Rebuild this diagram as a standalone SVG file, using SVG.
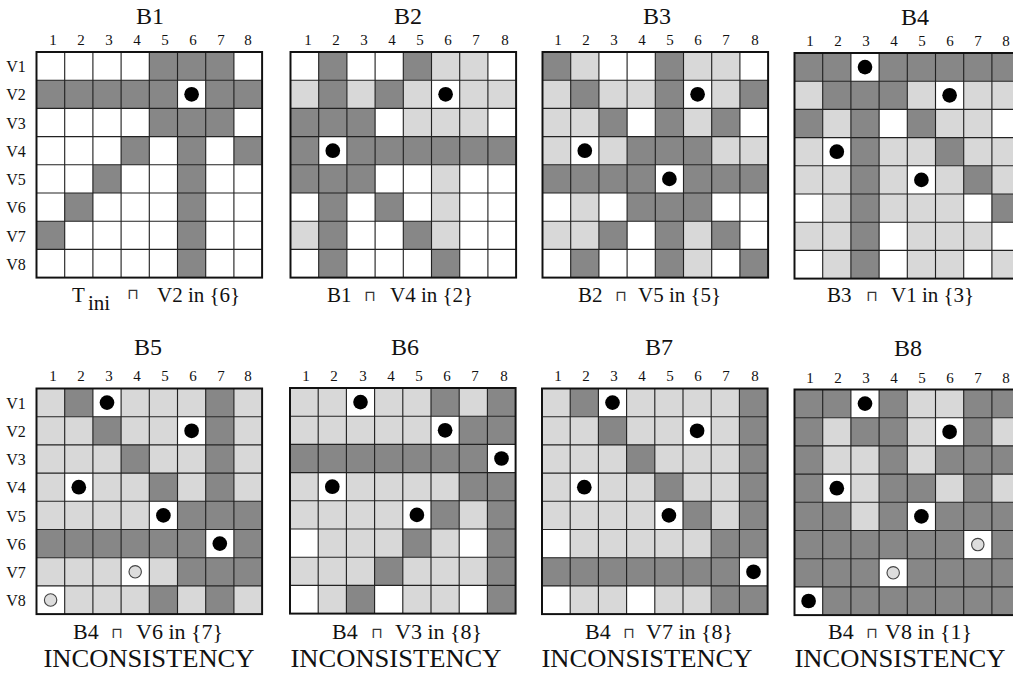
<svg xmlns="http://www.w3.org/2000/svg" xmlns:xlink="http://www.w3.org/1999/xlink" width="1013" height="677" viewBox="0 0 1013 677">
<style>
text{font-family:"Liberation Serif","Times New Roman",serif;fill:#111}
.title{font-size:24px;text-anchor:middle}
.num{font-size:15px;text-anchor:middle}
.row{font-size:16px;text-anchor:middle}
.lab{font-size:21px}
.lab2{font-size:22px}
.sym{font-family:"DejaVu Sans",sans-serif;font-size:15px;fill:#333}
.inc{font-size:25px;text-anchor:middle}
.d{fill:#878787}
.l{fill:#d8d8d8}
.bg{fill:#fff}
.gl{fill:none;stroke:#222;stroke-width:0.04}
.fr{fill:none;stroke:#111;stroke-width:0.07}
.dot{fill:#000}
.oc{fill:#ddd;stroke:#444;stroke-width:0.04}
</style>
<defs>
<g id="grid">
<path class="gl" d="M1 0V8M2 0V8M3 0V8M4 0V8M5 0V8M6 0V8M7 0V8M0 1H8M0 2H8M0 3H8M0 4H8M0 5H8M0 6H8M0 7H8"/>
<rect class="fr" width="8" height="8"/>
</g>
</defs>
<rect width="1013" height="677" fill="#fff"/>

<g id="board-B1">
<text class="title" x="150" y="24">B1</text>
<text class="num" x="53 81 109 137 165 193 221 248" y="45">12345678</text>
<text class="row" x="16" y="72">V1</text><text class="row" x="16" y="100">V2</text><text class="row" x="16" y="128.5">V3</text><text class="row" x="16" y="157">V4</text>
<text class="row" x="16" y="185">V5</text><text class="row" x="16" y="213">V6</text><text class="row" x="16" y="241.5">V7</text><text class="row" x="16" y="269.5">V8</text>
<g transform="translate(36.5,52) scale(28.2)">
<rect class="bg" width="8" height="8"/>
<rect class="d" x="4" y="0" width="3" height="1"/>
<rect class="d" x="0" y="1" width="5" height="1"/><rect class="d" x="6" y="1" width="2" height="1"/>
<rect class="d" x="4" y="2" width="3" height="1"/>
<rect class="d" x="3" y="3" width="1" height="1"/><rect class="d" x="7" y="3" width="1" height="1"/>
<rect class="d" x="2" y="4" width="1" height="1"/>
<rect class="d" x="1" y="5" width="1" height="1"/>
<rect class="d" x="0" y="6" width="1" height="1"/>
<rect class="d" x="5" y="3" width="1" height="5"/>
<use xlink:href="#grid"/>
<circle class="dot" cx="5.5" cy="1.5" r="0.26"/>
</g>
<text class="lab" x="72" y="302">T</text><text class="lab" x="88" y="310">ini</text><text class="sym" x="127" y="299">⊓</text><text class="lab" x="157" y="302">V2 in {6}</text>
</g>

<g id="board-B2">
<text class="title" x="408" y="24">B2</text>
<text class="num" x="308 336 364 392 420 448 476 505" y="45">12345678</text>
<g transform="translate(290.5,52) scale(28.2)">
<rect class="bg" width="8" height="8"/>
<rect class="d" x="1" y="0" width="1" height="1"/><rect class="d" x="4" y="0" width="1" height="1"/><rect class="l" x="5" y="0" width="2" height="1"/>
<rect class="l" x="0" y="1" width="1" height="1"/><rect class="d" x="1" y="1" width="1" height="1"/><rect class="l" x="2" y="1" width="1" height="1"/><rect class="d" x="3" y="1" width="1" height="1"/><rect class="l" x="4" y="1" width="1" height="1"/><rect class="l" x="6" y="1" width="2" height="1"/>
<rect class="d" x="0" y="2" width="3" height="1"/><rect class="l" x="4" y="2" width="3" height="1"/>
<rect class="d" x="0" y="3" width="1" height="1"/><rect class="d" x="2" y="3" width="6" height="1"/>
<rect class="d" x="0" y="4" width="3" height="1"/><rect class="l" x="5" y="4" width="1" height="1"/>
<rect class="d" x="1" y="5" width="1" height="1"/><rect class="d" x="3" y="5" width="1" height="1"/><rect class="l" x="5" y="5" width="1" height="1"/>
<rect class="l" x="0" y="6" width="1" height="1"/><rect class="d" x="1" y="6" width="1" height="1"/><rect class="d" x="4" y="6" width="1" height="1"/><rect class="l" x="5" y="6" width="1" height="1"/>
<rect class="d" x="1" y="7" width="1" height="1"/><rect class="d" x="5" y="7" width="1" height="1"/>
<use xlink:href="#grid"/>
<circle class="dot" cx="5.5" cy="1.5" r="0.26"/><circle class="dot" cx="1.5" cy="3.5" r="0.26"/>
</g>
<text class="lab" x="327" y="302">B1</text><text class="sym" x="364" y="301">⊓</text><text class="lab" x="390" y="302">V4 in {2}</text>
</g>

<g id="board-B3">
<text class="title" x="657" y="24">B3</text>
<text class="num" x="558 586 614 642 670 698 726 755" y="45">12345678</text>
<g transform="translate(542.5,52) scale(28.2)">
<rect class="bg" width="8" height="8"/>
<rect class="d" x="0" y="0" width="1" height="1"/><rect class="l" x="1" y="0" width="1" height="1"/><rect class="d" x="4" y="0" width="1" height="1"/><rect class="l" x="5" y="0" width="2" height="1"/>
<rect class="l" x="0" y="1" width="1" height="1"/><rect class="d" x="1" y="1" width="1" height="1"/><rect class="l" x="2" y="1" width="2" height="1"/><rect class="d" x="4" y="1" width="1" height="1"/><rect class="l" x="6" y="1" width="1" height="1"/><rect class="d" x="7" y="1" width="1" height="1"/>
<rect class="l" x="0" y="2" width="2" height="1"/><rect class="d" x="2" y="2" width="1" height="1"/><rect class="d" x="4" y="2" width="1" height="1"/><rect class="l" x="5" y="2" width="1" height="1"/><rect class="d" x="6" y="2" width="1" height="1"/>
<rect class="l" x="0" y="3" width="1" height="1"/><rect class="l" x="2" y="3" width="1" height="1"/><rect class="d" x="3" y="3" width="3" height="1"/><rect class="l" x="6" y="3" width="2" height="1"/>
<rect class="d" x="0" y="4" width="4" height="1"/><rect class="d" x="5" y="4" width="3" height="1"/>
<rect class="l" x="1" y="5" width="1" height="1"/><rect class="d" x="3" y="5" width="3" height="1"/>
<rect class="l" x="0" y="6" width="2" height="1"/><rect class="d" x="2" y="6" width="1" height="1"/><rect class="d" x="4" y="6" width="1" height="1"/><rect class="l" x="5" y="6" width="1" height="1"/><rect class="d" x="6" y="6" width="1" height="1"/>
<rect class="d" x="1" y="7" width="1" height="1"/><rect class="d" x="4" y="7" width="1" height="1"/><rect class="l" x="5" y="7" width="1" height="1"/><rect class="d" x="7" y="7" width="1" height="1"/>
<use xlink:href="#grid"/>
<circle class="dot" cx="5.5" cy="1.5" r="0.26"/><circle class="dot" cx="1.5" cy="3.5" r="0.26"/><circle class="dot" cx="4.5" cy="4.5" r="0.26"/>
</g>
<text class="lab" x="578" y="302">B2</text><text class="sym" x="615" y="301">⊓</text><text class="lab" x="638" y="302">V5 in {5}</text>
</g>

<g id="board-B4">
<text class="title" x="915" y="25">B4</text>
<text class="num" x="810 838 866 894 922 950 978 1006" y="46">12345678</text>
<g transform="translate(794.5,53) scale(28.2)">
<rect class="bg" width="8" height="8"/>
<rect class="d" x="0" y="0" width="2" height="1"/><rect class="d" x="3" y="0" width="5" height="1"/>
<rect class="l" x="0" y="1" width="1" height="1"/><rect class="d" x="1" y="1" width="3" height="1"/><rect class="l" x="4" y="1" width="1" height="1"/><rect class="l" x="6" y="1" width="2" height="1"/>
<rect class="d" x="0" y="2" width="1" height="1"/><rect class="l" x="1" y="2" width="1" height="1"/><rect class="d" x="2" y="2" width="1" height="1"/><rect class="d" x="4" y="2" width="1" height="1"/><rect class="l" x="5" y="2" width="2" height="1"/>
<rect class="l" x="0" y="3" width="1" height="1"/><rect class="d" x="2" y="3" width="1" height="1"/><rect class="l" x="3" y="3" width="2" height="1"/><rect class="d" x="5" y="3" width="1" height="1"/><rect class="l" x="6" y="3" width="2" height="1"/>
<rect class="l" x="0" y="4" width="2" height="1"/><rect class="d" x="2" y="4" width="1" height="1"/><rect class="l" x="3" y="4" width="1" height="1"/><rect class="l" x="5" y="4" width="1" height="1"/><rect class="d" x="6" y="4" width="1" height="1"/><rect class="l" x="7" y="4" width="1" height="1"/>
<rect class="l" x="1" y="5" width="1" height="1"/><rect class="d" x="2" y="5" width="1" height="1"/><rect class="l" x="3" y="5" width="3" height="1"/><rect class="d" x="7" y="5" width="1" height="1"/>
<rect class="l" x="0" y="6" width="2" height="1"/><rect class="d" x="2" y="6" width="1" height="1"/><rect class="l" x="4" y="6" width="3" height="1"/>
<rect class="l" x="1" y="7" width="1" height="1"/><rect class="d" x="2" y="7" width="1" height="1"/><rect class="l" x="4" y="7" width="2" height="1"/><rect class="l" x="7" y="7" width="1" height="1"/>
<use xlink:href="#grid"/>
<circle class="dot" cx="2.5" cy="0.5" r="0.26"/><circle class="dot" cx="5.5" cy="1.5" r="0.26"/><circle class="dot" cx="1.5" cy="3.5" r="0.26"/><circle class="dot" cx="4.5" cy="4.5" r="0.26"/>
</g>
<text class="lab" x="827" y="302">B3</text><text class="sym" x="866" y="301">⊓</text><text class="lab" x="891" y="302">V1 in {3}</text>
</g>

<g id="board-B5">
<text class="title" x="148" y="355">B5</text>
<text class="num" x="53 81 109 137 165 193 221 248" y="381">12345678</text>
<text class="row" x="16" y="408.5">V1</text><text class="row" x="16" y="437">V2</text><text class="row" x="16" y="465">V3</text><text class="row" x="16" y="493">V4</text>
<text class="row" x="16" y="521.5">V5</text><text class="row" x="16" y="549.5">V6</text><text class="row" x="16" y="578">V7</text><text class="row" x="16" y="606">V8</text>
<g transform="translate(36.5,388.5) scale(28.2)">
<rect class="bg" width="8" height="8"/>
<rect class="l" x="0" y="0" width="1" height="1"/><rect class="d" x="1" y="0" width="1" height="1"/><rect class="l" x="3" y="0" width="3" height="1"/><rect class="d" x="6" y="0" width="1" height="1"/><rect class="l" x="7" y="0" width="1" height="1"/>
<rect class="l" x="0" y="1" width="2" height="1"/><rect class="d" x="2" y="1" width="1" height="1"/><rect class="l" x="3" y="1" width="2" height="1"/><rect class="d" x="6" y="1" width="1" height="1"/><rect class="l" x="7" y="1" width="1" height="1"/>
<rect class="l" x="0" y="2" width="3" height="1"/><rect class="d" x="3" y="2" width="1" height="1"/><rect class="l" x="4" y="2" width="2" height="1"/><rect class="d" x="6" y="2" width="1" height="1"/><rect class="l" x="7" y="2" width="1" height="1"/>
<rect class="l" x="0" y="3" width="1" height="1"/><rect class="l" x="2" y="3" width="2" height="1"/><rect class="d" x="4" y="3" width="1" height="1"/><rect class="l" x="5" y="3" width="1" height="1"/><rect class="d" x="6" y="3" width="1" height="1"/><rect class="l" x="7" y="3" width="1" height="1"/>
<rect class="l" x="0" y="4" width="4" height="1"/><rect class="d" x="5" y="4" width="3" height="1"/>
<rect class="d" x="0" y="5" width="6" height="1"/><rect class="d" x="7" y="5" width="1" height="1"/>
<rect class="l" x="0" y="6" width="3" height="1"/><rect class="l" x="4" y="6" width="1" height="1"/><rect class="d" x="5" y="6" width="3" height="1"/>
<rect class="l" x="1" y="7" width="3" height="1"/><rect class="d" x="4" y="7" width="1" height="1"/><rect class="l" x="5" y="7" width="1" height="1"/><rect class="d" x="6" y="7" width="1" height="1"/><rect class="l" x="7" y="7" width="1" height="1"/>
<use xlink:href="#grid"/>
<circle class="dot" cx="2.5" cy="0.5" r="0.26"/><circle class="dot" cx="5.5" cy="1.5" r="0.26"/><circle class="dot" cx="1.5" cy="3.5" r="0.26"/><circle class="dot" cx="4.5" cy="4.5" r="0.26"/><circle class="dot" cx="6.5" cy="5.5" r="0.26"/>
<circle class="oc" cx="3.5" cy="6.5" r="0.22"/><circle class="oc" cx="0.5" cy="7.5" r="0.22"/>
</g>
<text class="lab2" x="73" y="639">B4</text><text class="sym" x="111" y="638">⊓</text><text class="lab2" x="136" y="639">V6 in {7}</text>
<text class="inc" x="149" y="667" textLength="211" lengthAdjust="spacingAndGlyphs">INCONSISTENCY</text>
</g>

<g id="board-B6">
<text class="title" x="405" y="355">B6</text>
<text class="num" x="306 334 363 391 419 447 475 504" y="381">12345678</text>
<g transform="translate(290,388) scale(28.2)">
<rect class="bg" width="8" height="8"/>
<rect class="l" x="0" y="0" width="2" height="1"/><rect class="l" x="3" y="0" width="2" height="1"/><rect class="d" x="5" y="0" width="1" height="1"/><rect class="l" x="6" y="0" width="1" height="1"/><rect class="d" x="7" y="0" width="1" height="1"/>
<rect class="l" x="0" y="1" width="5" height="1"/><rect class="d" x="6" y="1" width="2" height="1"/>
<rect class="d" x="0" y="2" width="7" height="1"/>
<rect class="l" x="0" y="3" width="1" height="1"/><rect class="l" x="2" y="3" width="4" height="1"/><rect class="d" x="6" y="3" width="2" height="1"/>
<rect class="l" x="0" y="4" width="4" height="1"/><rect class="d" x="5" y="4" width="1" height="1"/><rect class="l" x="6" y="4" width="1" height="1"/><rect class="d" x="7" y="4" width="1" height="1"/>
<rect class="l" x="1" y="5" width="3" height="1"/><rect class="d" x="4" y="5" width="1" height="1"/><rect class="l" x="5" y="5" width="1" height="1"/><rect class="d" x="7" y="5" width="1" height="1"/>
<rect class="l" x="0" y="6" width="3" height="1"/><rect class="d" x="3" y="6" width="1" height="1"/><rect class="l" x="4" y="6" width="3" height="1"/><rect class="d" x="7" y="6" width="1" height="1"/>
<rect class="l" x="1" y="7" width="1" height="1"/><rect class="d" x="2" y="7" width="1" height="1"/><rect class="l" x="4" y="7" width="2" height="1"/><rect class="d" x="7" y="7" width="1" height="1"/>
<use xlink:href="#grid"/>
<circle class="dot" cx="2.5" cy="0.5" r="0.26"/><circle class="dot" cx="5.5" cy="1.5" r="0.26"/><circle class="dot" cx="7.5" cy="2.5" r="0.26"/><circle class="dot" cx="1.5" cy="3.5" r="0.26"/><circle class="dot" cx="4.5" cy="4.5" r="0.26"/>
</g>
<text class="lab2" x="332" y="639">B4</text><text class="sym" x="371" y="638">⊓</text><text class="lab2" x="395" y="639">V3 in {8}</text>
<text class="inc" x="396" y="667" textLength="211" lengthAdjust="spacingAndGlyphs">INCONSISTENCY</text>
</g>

<g id="board-B7">
<text class="title" x="659" y="355">B7</text>
<text class="num" x="558 586 614 642 670 698 726 755" y="381">12345678</text>
<g transform="translate(542,388.5) scale(28.2)">
<rect class="bg" width="8" height="8"/>
<rect class="l" x="0" y="0" width="1" height="1"/><rect class="d" x="1" y="0" width="1" height="1"/><rect class="l" x="3" y="0" width="4" height="1"/><rect class="d" x="7" y="0" width="1" height="1"/>
<rect class="l" x="0" y="1" width="2" height="1"/><rect class="d" x="2" y="1" width="1" height="1"/><rect class="l" x="3" y="1" width="2" height="1"/><rect class="l" x="6" y="1" width="1" height="1"/><rect class="d" x="7" y="1" width="1" height="1"/>
<rect class="l" x="0" y="2" width="3" height="1"/><rect class="d" x="3" y="2" width="1" height="1"/><rect class="l" x="4" y="2" width="3" height="1"/><rect class="d" x="7" y="2" width="1" height="1"/>
<rect class="l" x="0" y="3" width="1" height="1"/><rect class="l" x="2" y="3" width="2" height="1"/><rect class="d" x="4" y="3" width="1" height="1"/><rect class="l" x="5" y="3" width="2" height="1"/><rect class="d" x="7" y="3" width="1" height="1"/>
<rect class="l" x="0" y="4" width="4" height="1"/><rect class="d" x="5" y="4" width="1" height="1"/><rect class="l" x="6" y="4" width="1" height="1"/><rect class="d" x="7" y="4" width="1" height="1"/>
<rect class="l" x="1" y="5" width="5" height="1"/><rect class="d" x="6" y="5" width="2" height="1"/>
<rect class="d" x="0" y="6" width="7" height="1"/>
<rect class="l" x="1" y="7" width="2" height="1"/><rect class="l" x="4" y="7" width="2" height="1"/><rect class="d" x="6" y="7" width="2" height="1"/>
<use xlink:href="#grid"/>
<circle class="dot" cx="2.5" cy="0.5" r="0.26"/><circle class="dot" cx="5.5" cy="1.5" r="0.26"/><circle class="dot" cx="1.5" cy="3.5" r="0.26"/><circle class="dot" cx="4.5" cy="4.5" r="0.26"/><circle class="dot" cx="7.5" cy="6.5" r="0.26"/>
</g>
<text class="lab2" x="585" y="639">B4</text><text class="sym" x="623" y="638">⊓</text><text class="lab2" x="646" y="639">V7 in {8}</text>
<text class="inc" x="647" y="667" textLength="211" lengthAdjust="spacingAndGlyphs">INCONSISTENCY</text>
</g>

<g id="board-B8">
<text class="title" x="908" y="356">B8</text>
<text class="num" x="810 838 866 894 922 950 978 1006" y="383">12345678</text>
<g transform="translate(794.5,389.5) scale(28.2)">
<rect class="bg" width="8" height="8"/>
<rect class="d" x="0" y="0" width="2" height="1"/><rect class="d" x="3" y="0" width="1" height="1"/><rect class="l" x="4" y="0" width="2" height="1"/><rect class="d" x="6" y="0" width="2" height="1"/>
<rect class="d" x="0" y="1" width="1" height="1"/><rect class="l" x="1" y="1" width="1" height="1"/><rect class="d" x="2" y="1" width="2" height="1"/><rect class="l" x="4" y="1" width="1" height="1"/><rect class="d" x="6" y="1" width="1" height="1"/><rect class="l" x="7" y="1" width="1" height="1"/>
<rect class="d" x="0" y="2" width="1" height="1"/><rect class="l" x="1" y="2" width="2" height="1"/><rect class="d" x="3" y="2" width="1" height="1"/><rect class="l" x="4" y="2" width="1" height="1"/><rect class="d" x="5" y="2" width="3" height="1"/>
<rect class="d" x="0" y="3" width="1" height="1"/><rect class="l" x="2" y="3" width="1" height="1"/><rect class="d" x="3" y="3" width="2" height="1"/><rect class="l" x="5" y="3" width="1" height="1"/><rect class="d" x="6" y="3" width="1" height="1"/><rect class="l" x="7" y="3" width="1" height="1"/>
<rect class="d" x="0" y="4" width="2" height="1"/><rect class="l" x="2" y="4" width="1" height="1"/><rect class="d" x="3" y="4" width="1" height="1"/><rect class="d" x="5" y="4" width="3" height="1"/>
<rect class="d" x="0" y="5" width="6" height="1"/><rect class="d" x="7" y="5" width="1" height="1"/>
<rect class="d" x="0" y="6" width="3" height="1"/><rect class="d" x="4" y="6" width="4" height="1"/>
<rect class="d" x="1" y="7" width="7" height="1"/>
<use xlink:href="#grid"/>
<circle class="dot" cx="2.5" cy="0.5" r="0.26"/><circle class="dot" cx="5.5" cy="1.5" r="0.26"/><circle class="dot" cx="1.5" cy="3.5" r="0.26"/><circle class="dot" cx="4.5" cy="4.5" r="0.26"/><circle class="dot" cx="0.5" cy="7.5" r="0.26"/>
<circle class="oc" cx="6.5" cy="5.5" r="0.22"/><circle class="oc" cx="3.5" cy="6.5" r="0.22"/>
</g>
<text class="lab2" x="828" y="639">B4</text><text class="sym" x="866" y="638">⊓</text><text class="lab2" x="885" y="639">V8 in {1}</text>
<text class="inc" x="900" y="667" textLength="211" lengthAdjust="spacingAndGlyphs">INCONSISTENCY</text>
</g>
</svg>
